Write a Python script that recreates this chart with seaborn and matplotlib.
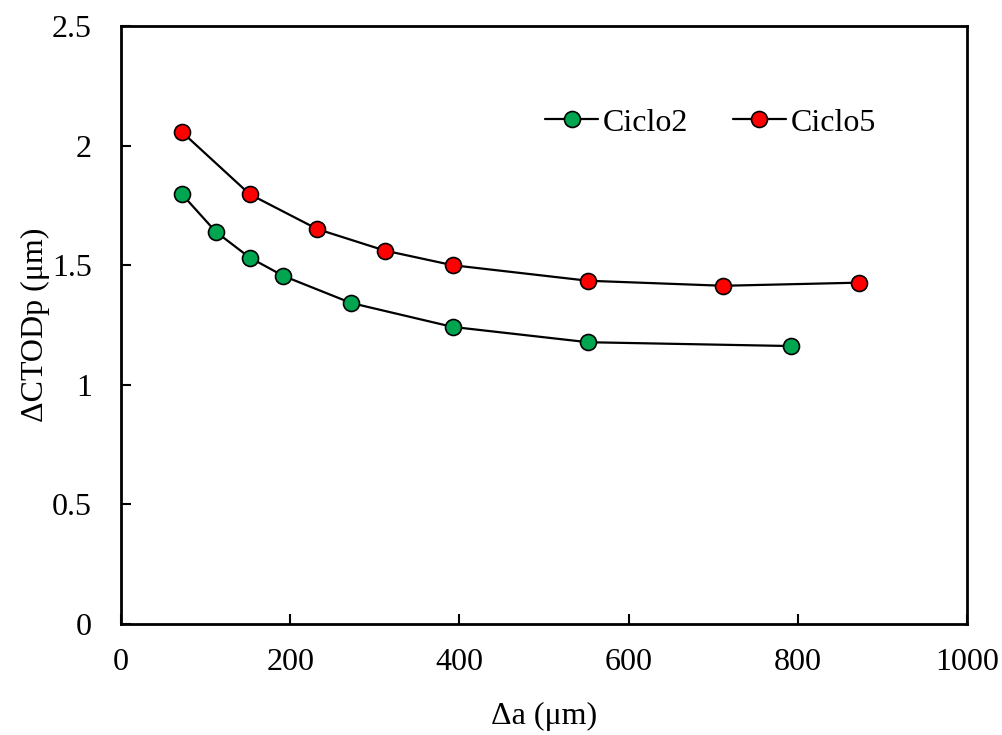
import matplotlib
matplotlib.use("Agg")
import matplotlib.pyplot as plt
import seaborn as sns
import pandas as pd

x_ciclo2 = [72, 112, 152, 192, 272, 392, 552, 792]
y_ciclo2 = [1.797, 1.640, 1.532, 1.455, 1.342, 1.242, 1.178, 1.162]
x_ciclo5 = [72, 152, 232, 312, 392, 552, 712, 872]
y_ciclo5 = [2.057, 1.797, 1.651, 1.561, 1.500, 1.435, 1.414, 1.427]

sns.set_theme(style="ticks")
plt.rcParams['font.family'] = ['Liberation Serif', 'DejaVu Serif']

df = pd.concat([
    pd.DataFrame({"x": x_ciclo2, "y": y_ciclo2, "serie": "Ciclo2"}),
    pd.DataFrame({"x": x_ciclo5, "y": y_ciclo5, "serie": "Ciclo5"}),
])

fig = plt.figure(figsize=(10.03, 7.35), dpi=100)
ax = fig.add_axes([121/1003, 1-624/735, (967-121)/1003, (624-26)/735])

colors = {"Ciclo2": "#00a550", "Ciclo5": "#ff0000"}
for name in ["Ciclo2", "Ciclo5"]:
    d = df[df.serie == name]
    sns.lineplot(data=d, x="x", y="y", ax=ax, color="black", linewidth=1.6,
                 marker="o", markersize=11.5, markerfacecolor=colors[name],
                 markeredgecolor="black", markeredgewidth=1.2, label=name,
                 sort=False)

fs = 23
ax.set_xlim(0, 1000)
ax.set_ylim(0, 2.5)
ax.set_xticks([0, 200, 400, 600, 800, 1000])
ax.set_yticks([0, 0.5, 1, 1.5, 2, 2.5])
ax.set_yticklabels(["0", "0.5", "1", "1.5", "2", "2.5"])
for s in ax.spines.values():
    s.set_visible(True)
    s.set_linewidth(2)
    s.set_color("black")
ax.tick_params(direction="in", length=7, width=1.5, labelsize=fs, colors="black")
ax.tick_params(axis="x", pad=17)
ax.tick_params(axis="y", pad=21)
ax.set_xlabel("Δa (μm)", fontsize=fs, labelpad=18, color="black")
ax.set_ylabel("ΔCTODp (μm)", fontsize=fs, labelpad=1, color="black")
leg = ax.legend(loc="center", bbox_to_anchor=(0.697, 0.838), ncol=2, frameon=False,
                fontsize=fs, handlelength=1.65, columnspacing=1.4, handletextpad=0.15)
for t in leg.get_texts():
    t.set_color("black")
fig.savefig("out.png", dpi=100)
